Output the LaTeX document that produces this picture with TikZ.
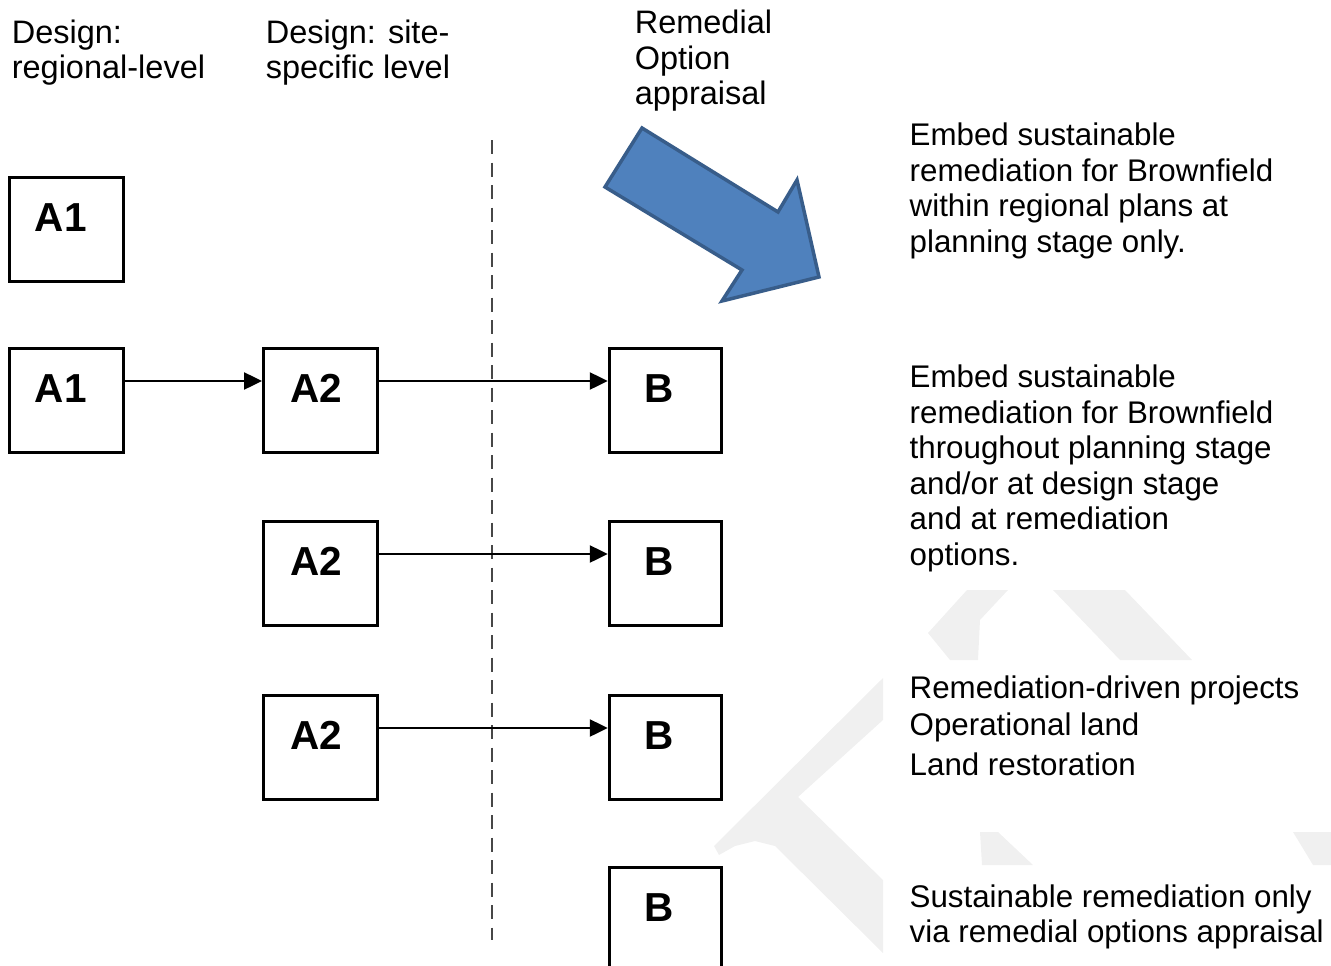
\documentclass[tikz,border=0pt]{standalone}
\usepackage{fontspec}
\setmainfont{Liberation Sans}
\usetikzlibrary{arrows.meta}
\definecolor{wmark}{RGB}{240,240,240}
\definecolor{bluefill}{HTML}{4F81BD}
\definecolor{blueline}{HTML}{385D8A}
\begin{document}
\begin{tikzpicture}[x=1pt,y=-1pt,
  stagebox/.style={draw,line width=3pt,fill=white,minimum width=114pt,minimum height=104pt,
    inner sep=0pt,font=\fontsize{40.5}{40.5}\selectfont\bfseries,text height=29pt,text depth=25pt},
  bbox/.style={stagebox,minimum width=112pt},
  flow/.style={line width=2.5pt,-{Triangle[length=18pt,width=17pt]}},
  divider/.style={line width=2.6pt,black!72,dash pattern=on 14pt off 8.5pt},
  desc/.style={anchor=north west,inner sep=0pt,align=left,font=\fontsize{31.3}{35.5}\selectfont},
  head/.style={anchor=north west,inner sep=0pt,align=left,font=\fontsize{32.5}{34.5}\selectfont},
  watermark/.style={fill=wmark,draw=none}
]
\useasboundingbox (0,0) rectangle (1331,966);
\clip (0,0) rectangle (1331,966);

% faint logo pieces in the background
\fill[watermark] (883,678) -- (714,846) -- (719,855) -- (735,846) -- (755,841) -- (775,846)
  -- (883,953) -- (883,880) -- (798,797) -- (883,720) -- cycle;
\fill[watermark] (967,590) -- (1008,590) -- (980,620) -- (978,660) -- (950,660) -- (928,633) -- cycle;
\fill[watermark] (1053,590) -- (1125,590) -- (1192,660) -- (1120,660) -- cycle;
\fill[watermark] (980,832) -- (998,832) -- (1033,865) -- (982,865) -- cycle;
\fill[watermark] (1293,832) -- (1331,832) -- (1331,865) -- (1313,865) -- cycle;

% column headings
\node[head] (h1) at (11.6,19.8) {Design:\\regional-level};
\node[head] (h2) at (265.6,19.8) {Design: site-\\specific level};
\node[head,font=\fontsize{32.5}{35.5}\selectfont] (h3) at (634.6,9.8) {Remedial\\Option\\appraisal};

% stage boxes
\node[stagebox] (a1a) at (66.75,229.5) {A1\kern12pt};
\node[stagebox] (a1b) at (66.75,400.5) {A1\kern12pt};
\node[stagebox] (a2a) at (320.5,400.5) {A2\kern8pt};
\node[stagebox] (a2b) at (320.5,573.5) {A2\kern8pt};
\node[stagebox] (a2c) at (320.5,747.5) {A2\kern8pt};
\node[bbox] (ba) at (665.25,400.5) {B\kern12pt};
\node[bbox] (bb) at (665.25,573.5) {B\kern12pt};
\node[bbox] (bc) at (665.25,747.5) {B\kern12pt};
\node[bbox] (bd) at (665.25,919.5) {B\kern12pt};

% dashed divider between design and appraisal
\coordinate (dtop) at (492,140);
\coordinate (dbot) at (492,940);
\draw[divider] (dtop) -- (dbot);

% flow arrows
\draw[flow] ([yshift=-34pt]a1b.north east) -- ([yshift=-34pt]a2a.north west);
\draw[flow] ([yshift=-34pt]a2a.north east) -- ([yshift=-34pt]ba.north west);
\draw[flow] ([yshift=-34pt]a2b.north east) -- ([yshift=-34pt]bb.north west);
\draw[flow] ([yshift=-34pt]a2c.north east) -- ([yshift=-34pt]bc.north west);

% big block arrow
\draw[fill=bluefill,draw=blueline,line width=3.5pt,line join=miter]
  (642,128) -- (778,212) -- (797,180) -- (819,277) -- (722,301) -- (742,270) -- (605,187) -- cycle;

% descriptions
\node[desc] (t1) at (909.5,122.8) {Embed sustainable\\remediation for Brownfield\\within regional plans at\\planning stage only.};
\node[desc] (t2) at (909.5,364.8) {Embed sustainable\\remediation for Brownfield\\throughout planning stage\\and/or at design stage\\and at remediation\\options.};
\node[desc] (t3) at (909.5,675.8) {Remediation-driven projects\\[1.5pt]Operational land\\[4.5pt]Land restoration};
\node[desc] (t4) at (909.5,884.5) {Sustainable remediation only\\via remedial options appraisal};
\end{tikzpicture}
\end{document}
